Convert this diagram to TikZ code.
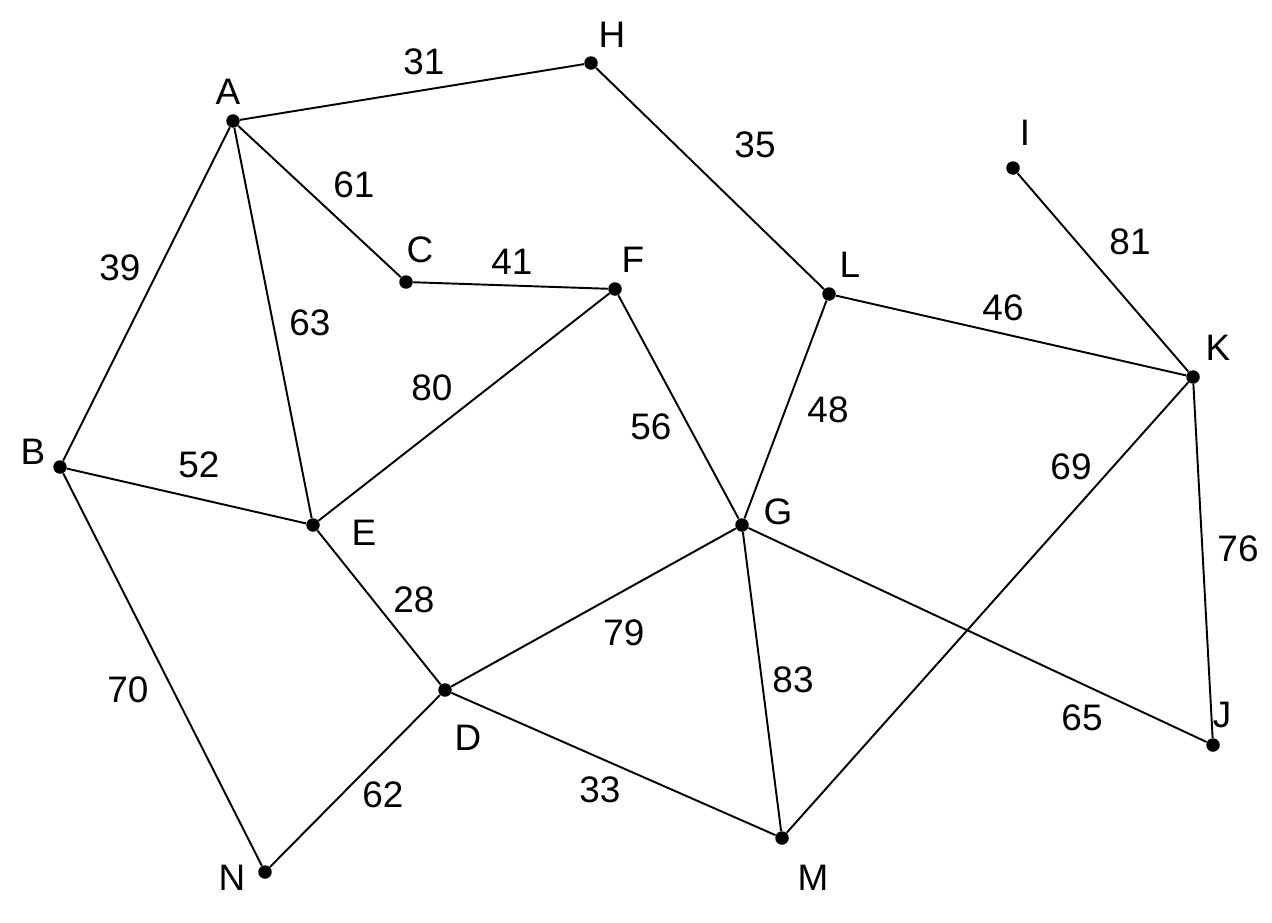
\documentclass[tikz,border=0pt]{standalone}
\usepackage{fontspec}
\setmainfont{Liberation Sans}
\begin{document}
\begin{tikzpicture}[x=0.02cm,y=-0.02cm,
  dot/.style={circle,fill=black,inner sep=0pt,minimum size=0.27cm},
  lab/.style={font=\fontsize{21}{24}\selectfont},
  edge/.style={line width=1.1pt}]
\useasboundingbox (0,0) rectangle (1272,923);
\foreach \n/\x/\y in {A/233/121,H/591/63,I/1013/168,C/406/282,F/615/289,L/829/294,K/1193/377,B/60/467,E/313/525,G/742/525,D/445/690,J/1213/745,M/782/838,N/265/872}
  \node[dot] (\n) at (\x,\y) {};
\foreach \n/\x/\y in {A/228/92,H/612/35,I/1025/133,C/420/250,F/633/260,L/850/265,K/1218/348,B/33/452,E/364/533,G/778/512,D/468/738,J/1222/715,M/813/878,N/232/878}
  \node[lab] (t\n) at (\x,\y) {\n};
\foreach \a/\b/\w/\x/\y in {A/H/31/424/62,H/L/35/755/145,A/C/61/354/185,C/F/41/512/262,A/B/39/120/268,A/E/63/310/323,I/K/81/1130/242,L/K/46/1003/308,E/F/80/432/388,F/G/56/651/427,L/G/48/828/410,K/M/69/1071/467,B/E/52/199/465,K/J/76/1238/549,E/D/28/414/600,D/G/79/624/633,G/M/83/793/680,B/N/70/128/690,G/J/65/1082/718,N/D/62/383/795,D/M/33/600/790}
  {\draw[edge] (\a) -- (\b);
   \node[lab] (w\a\b) at (\x,\y) {\w};}
\end{tikzpicture}
\end{document}
